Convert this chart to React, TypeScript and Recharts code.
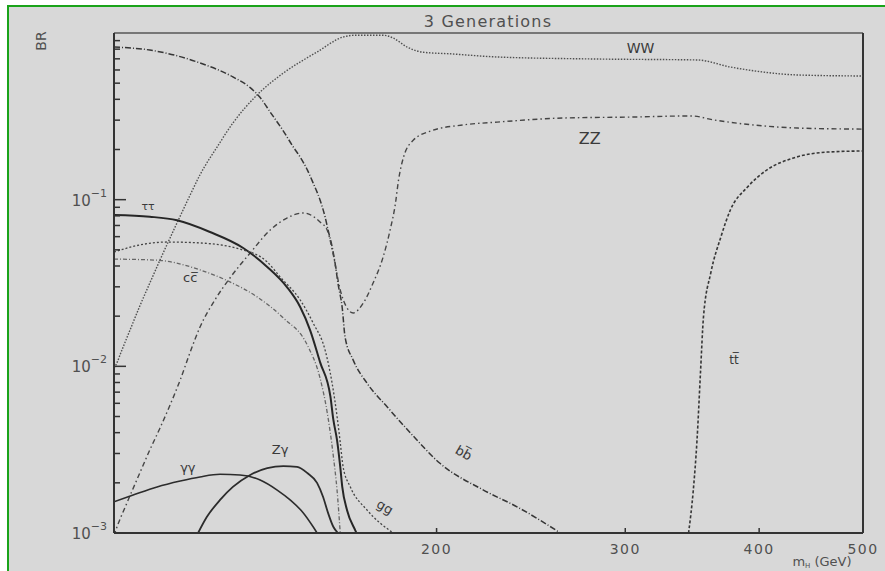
import { LineChart, Line, XAxis, YAxis, ReferenceDot, ReferenceLine } from 'recharts';

// Higgs branching ratios, 3 generations: [m_H (GeV), BR]
const bbbar: [number, number][] = [
  [100, 0.824], [108, 0.79], [120.3, 0.661], [129.1, 0.545], [134, 0.47],
  [136.9, 0.41], [139.9, 0.335], [143.9, 0.258], [147, 0.207], [149.2, 0.18],
  [151.5, 0.151], [153.4, 0.126], [155.7, 0.0995], [157.4, 0.0787], [158.4, 0.0658],
  [159.8, 0.052], [160.8, 0.0417], [161.8, 0.0316], [163.3, 0.0224], [164.3, 0.015],
  [167.2, 0.0109], [172.3, 0.0079], [179.9, 0.0057], [189.1, 0.00398], [201.3, 0.00263],
  [221.2, 0.00181], [238, 0.00143], [261, 0.001],
];

const ww: [number, number][] = [
  [100, 0.0098], [100.4, 0.0102], [101.7, 0.0125], [103.5, 0.0165], [105.7, 0.023],
  [108, 0.0316], [110.4, 0.0435], [112.8, 0.0589], [115.3, 0.0798], [117.8, 0.107],
  [120.3, 0.141], [124.8, 0.207], [129.1, 0.288], [136, 0.425], [143.9, 0.575],
  [154.7, 0.769], [163.6, 0.946], [168, 0.97], [178.3, 0.97], [182.2, 0.933],
  [187.7, 0.824], [194.4, 0.766], [205.9, 0.75], [227.8, 0.718], [282.5, 0.698],
  [350.3, 0.689], [376, 0.625], [403.6, 0.583], [434.2, 0.56], [500, 0.552],
];

const zz: [number, number][] = [
  [100, 0.00096], [100.2, 0.001], [102.8, 0.00151], [105.7, 0.00229], [108, 0.00315],
  [110.4, 0.00427], [112.8, 0.00586], [115.3, 0.0083], [117.8, 0.0122], [120.3, 0.0172],
  [124.2, 0.025], [128.3, 0.0339], [134, 0.0479], [139.9, 0.0658], [145, 0.0776],
  [150.2, 0.0832], [155.7, 0.0735], [158.1, 0.0658], [160.2, 0.0466], [162.6, 0.0287],
  [165, 0.0224], [167.2, 0.0209], [170.8, 0.0239], [174.5, 0.0316], [178.3, 0.0453],
  [181, 0.0658], [183.1, 0.0953], [184.3, 0.131], [186.3, 0.18], [190.3, 0.228],
  [197.4, 0.258], [211.8, 0.281], [227.8, 0.292], [262.6, 0.309], [303.4, 0.313],
  [345.6, 0.318], [362.8, 0.301], [403.6, 0.277], [434.2, 0.269], [500, 0.265],
];

const tautau: [number, number][] = [
  [100, 0.081], [108, 0.079], [114.5, 0.0752], [122.9, 0.064], [132, 0.0513],
  [139, 0.0395], [145, 0.0299], [149.2, 0.0227], [152.4, 0.0165], [155.7, 0.0106],
  [159.2, 0.0066], [160.2, 0.0048], [161.5, 0.0036], [162.6, 0.0025], [163.3, 0.0019],
  [165, 0.00137], [167.9, 0.00104], [169, 0.00095],
];

const ccbar: [number, number][] = [
  [100, 0.044], [109.9, 0.0433], [120.3, 0.0379], [128.3, 0.0321], [136, 0.0261],
  [143.9, 0.0195], [151.5, 0.0134], [155.7, 0.0085], [158.1, 0.0053], [160.2, 0.0029],
  [161.5, 0.0018], [162.6, 0.001],
];

const gluglu: [number, number][] = [
  [100, 0.0485], [105.7, 0.0535], [112.1, 0.0557], [120.3, 0.055], [127.5, 0.0527],
  [131.1, 0.0505], [139, 0.0423], [142.9, 0.0344], [149.2, 0.025], [153.4, 0.0182],
  [157.4, 0.0125], [159.8, 0.0079], [161.5, 0.005], [162.6, 0.0035], [163.6, 0.0025],
  [166.1, 0.0019], [172.3, 0.00137], [182.2, 0.001],
];

const gamgam: [number, number][] = [
  [100, 0.00154], [104.2, 0.00169], [109.7, 0.00189], [115.3, 0.00205], [120.3, 0.00217],
  [125.6, 0.00225], [131.1, 0.00223], [136.9, 0.00208], [142, 0.00181], [146, 0.00158],
  [150.2, 0.00132], [153.4, 0.00109], [154.7, 0.001],
];

const zgam: [number, number][] = [
  [119.8, 0.001], [122.1, 0.00125], [125.6, 0.00158], [129.1, 0.00189], [134, 0.00223],
  [139, 0.00245], [143.9, 0.00252], [148.2, 0.00249], [151.5, 0.00229], [154.7, 0.002],
  [156.7, 0.00165], [158.4, 0.00132], [160.2, 0.00109], [161.8, 0.001],
];

const ttbar: [number, number][] = [
  [343.7, 0.001], [347.2, 0.0018], [350, 0.0036], [352.6, 0.0091], [354.9, 0.0198],
  [360.5, 0.0363], [368.4, 0.0597], [376, 0.0867], [390.1, 0.119], [406.8, 0.151],
  [430.7, 0.178], [463.1, 0.193], [500, 0.196],
];

const xTicks = [200, 300, 400, 500];
const decades = [0.001, 0.01, 0.1];
const steps = [1, 2, 3, 4, 5, 6, 7, 8, 9];
const yTicks = [...decades.flatMap((d) => steps.map((k) => k * d)), 1];

const curveLabels = [
  { text: 'WW', m: 310, br: 0.813, size: 14, angle: 0 },
  { text: 'ZZ', m: 278, br: 0.234, size: 16, angle: 0 },
  { text: 'tt\u0305', m: 379, br: 0.0109, size: 12, angle: 0 },
  { text: 'bb\u0305', m: 212, br: 0.00302, size: 13, angle: 30 },
  { text: 'gg', m: 179, br: 0.00143, size: 13, angle: 30 },
  { text: '\u03c4\u03c4', m: 107.6, br: 0.0904, size: 11, angle: 0 },
  { text: 'cc\u0305', m: 117.8, br: 0.0339, size: 13, angle: 0 },
  { text: '\u03b3\u03b3', m: 117.2, br: 0.00246, size: 13, angle: 0 },
  { text: 'Z\u03b3', m: 142.9, br: 0.00316, size: 13, angle: 0 },
];

const series = [
  { name: 'bb', pts: bbbar, stroke: '#363636', width: 1.5, dash: '6 2 1 2' },
  { name: 'WW', pts: ww, stroke: '#505050', width: 1.4, dash: '1.5 1.5' },
  { name: 'ZZ', pts: zz, stroke: '#454545', width: 1.4, dash: '5 3 1.5 3' },
  { name: 'tautau', pts: tautau, stroke: '#262626', width: 2, dash: undefined },
  { name: 'cc', pts: ccbar, stroke: '#666', width: 1.3, dash: '4 2 1 2' },
  { name: 'gg', pts: gluglu, stroke: '#444', width: 1.3, dash: '2 2' },
  { name: 'gamgam', pts: gamgam, stroke: '#2c2c2c', width: 1.6, dash: undefined },
  { name: 'zgam', pts: zgam, stroke: '#2c2c2c', width: 1.8, dash: undefined },
  { name: 'tt', pts: ttbar, stroke: '#363636', width: 1.6, dash: '3 2' },
];

const FONT = '"DejaVu Sans", sans-serif';
const TEXT = '#505050';

function YTick({ x, y, payload }: any) {
  const v = payload.value;
  const lg = Math.log10(v);
  const exp = Math.round(lg);
  const major = Math.abs(lg - exp) < 1e-6;
  return (
    <g>
      {v < 1 && (
        <line x1={x} x2={x + (major ? 12 : 6)} y1={y} y2={y} stroke="#333" strokeWidth={1.5} />
      )}
      {major && exp < 0 && (
        <text x={x - 7} y={y + 6} textAnchor="end" fill={TEXT} fontSize={15} fontFamily={FONT}>
          10
          <tspan dy={-9} fontSize={11}>
            {'\u2212' + -exp}
          </tspan>
        </text>
      )}
    </g>
  );
}

function XTick({ x, y, payload }: any) {
  return (
    <g>
      {payload.value < 500 && <line x1={x} x2={x} y1={y} y2={y - 5} stroke="#333" strokeWidth={1.5} />}
      <text x={x} y={y + 21} textAnchor="middle" fill={TEXT} fontSize={14} letterSpacing={1.5} fontFamily={FONT}>
        {payload.value}
      </text>
    </g>
  );
}

export default function App() {
  return (
    <div style={{ position: 'absolute', left: 0, top: 0, width: 885, height: 571, overflow: 'hidden', background: '#fff' }}>
      <div
        style={{
          position: 'absolute',
          left: 7,
          top: 5,
          width: 900,
          height: 600,
          border: '2px solid #1aa31a',
          background: '#d8d8d8',
        }}
      />
      <svg width={885} height={571} style={{ position: 'absolute', left: 0, top: 0 }}>
        <text x={488} y={27} textAnchor="middle" fill={TEXT} fontSize={16} letterSpacing={1.2} fontFamily={FONT}>
          3 Generations
        </text>
        <text
          x={46}
          y={41}
          textAnchor="middle"
          fill={TEXT}
          fontSize={14}
          fontFamily={FONT}
          transform="rotate(-90 46 41)"
        >
          BR
        </text>
        <text x={822} y={566} textAnchor="middle" fill={TEXT} fontSize={13} fontFamily={FONT}>
          m<tspan fontSize={7} dy={2}>H</tspan>
          <tspan dy={-2}> (GeV)</tspan>
        </text>
      </svg>
      <div style={{ position: 'absolute', left: 0, top: 0 }}>
        <LineChart width={885} height={571} margin={{ top: 33, right: 22, bottom: 8, left: 64 }}>
          <XAxis
            dataKey="m"
            type="number"
            scale="log"
            domain={[100, 500]}
            ticks={xTicks}
            interval={0}
            allowDataOverflow
            height={30}
            tickSize={0}
            tickMargin={0}
            tick={<XTick />}
            axisLine={{ stroke: '#333', strokeWidth: 2 }}
          />
          <YAxis
            dataKey="br"
            type="number"
            scale="log"
            domain={[0.001, 1]}
            ticks={yTicks}
            interval={0}
            allowDataOverflow
            width={50}
            tickSize={0}
            tickMargin={0}
            tick={<YTick />}
            axisLine={{ stroke: '#333', strokeWidth: 2 }}
          />
          <ReferenceLine y={1} stroke="#777" strokeWidth={2} ifOverflow="visible" />
          <ReferenceLine x={500} stroke="#333" strokeWidth={2} ifOverflow="visible" />
          {series.map((s) => (
            <Line
              key={s.name}
              data={s.pts.map(([m, br]) => ({ m, br }))}
              dataKey="br"
              type="monotone"
              stroke={s.stroke}
              strokeWidth={s.width}
              strokeDasharray={s.dash}
              dot={false}
              activeDot={false}
              isAnimationActive={false}
            />
          ))}
          {curveLabels.map((l) => (
            <ReferenceDot
              key={l.text}
              x={l.m}
              y={l.br}
              r={0}
              ifOverflow="visible"
              shape={(p: any) => (
                <text
                  x={p.cx}
                  y={p.cy}
                  textAnchor="middle"
                  dominantBaseline="central"
                  fill="#3a3a3a"
                  fontSize={l.size}
                  fontFamily={FONT}
                  transform={l.angle ? `rotate(${l.angle} ${p.cx} ${p.cy})` : undefined}
                >
                  {l.text}
                </text>
              )}
            />
          ))}
        </LineChart>
      </div>
    </div>
  );
}
